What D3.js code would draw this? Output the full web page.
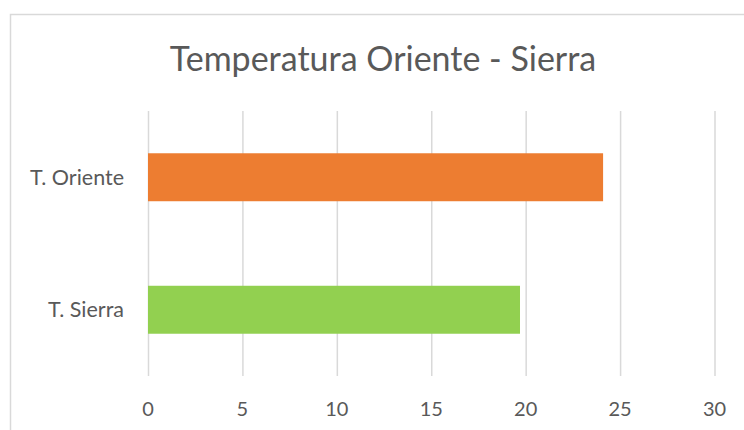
<html>
  <head>
    <script src="https://d3js.org/d3.v7.min.js"></script>
    <style>
      body { margin: 0; background: white; }
      text { font-family: Lato, "Open Sans", sans-serif; fill: #595959; }
      .grid line { stroke: #d9d9d9; stroke-width: 1.5; }
      .grid .domain { display: none; }
    </style>
  </head>
  <body>
    <svg id="chart" width="744" height="430"></svg>
    <script>
      // data
      var categories = ['T. Oriente', 'T. Sierra'];
      var temps = [24.1, 19.7];
      var colors = ['#ED7D31', '#92D050'];
      var xTicks = [0, 5, 10, 15, 20, 25, 30];
      var title = 'Temperatura Oriente - Sierra';

      var svg = d3.select('#chart');

      // outer chart frame (runs off the right/bottom edge like the screenshot)
      svg.append('rect')
        .attr('x', 10.5).attr('y', 14.5)
        .attr('width', 800).attr('height', 500)
        .attr('fill', 'white')
        .attr('stroke', '#d9d9d9').attr('stroke-width', 1.5);

      var x = d3.scaleLinear().domain([0, 30]).range([148, 714.5]);
      var y = d3.scaleBand().domain(categories).range([111, 376])
        .paddingInner(0.638).paddingOuter(0.319);

      // vertical gridlines
      svg.append('g').attr('class', 'grid')
        .attr('transform', 'translate(0,111)')
        .call(d3.axisBottom(x).tickValues(xTicks).tickSize(265).tickFormat(''));

      svg.selectAll('.bar')
        .data(temps)
        .enter().append('rect')
        .attr('class', 'bar')
        .attr('x', x(0))
        .attr('y', function(d, i) { return y(categories[i]); })
        .attr('width', function(d) { return x(d) - x(0); })
        .attr('height', y.bandwidth())
        .attr('fill', function(d, i) { return colors[i]; });

      // category labels
      svg.selectAll('.cat')
        .data(categories)
        .enter().append('text')
        .attr('class', 'cat')
        .attr('x', 124)
        .attr('y', function(d) { return y(d) + y.bandwidth() / 2; })
        .attr('dy', '0.35em')
        .attr('text-anchor', 'end')
        .style('font-size', '21.5px')
        .text(function(d) { return d; });

      // tick labels
      svg.selectAll('.tick-label')
        .data(xTicks)
        .enter().append('text')
        .attr('class', 'tick-label')
        .attr('x', function(d) { return x(d); })
        .attr('y', 416)
        .attr('text-anchor', 'middle')
        .style('font-size', '20px')
        .text(function(d) { return d; });

      svg.append('text')
        .attr('x', 383).attr('y', 71)
        .attr('text-anchor', 'middle')
        .style('font-size', '34px')
        .text(title);
    </script>
  </body>
</html>
